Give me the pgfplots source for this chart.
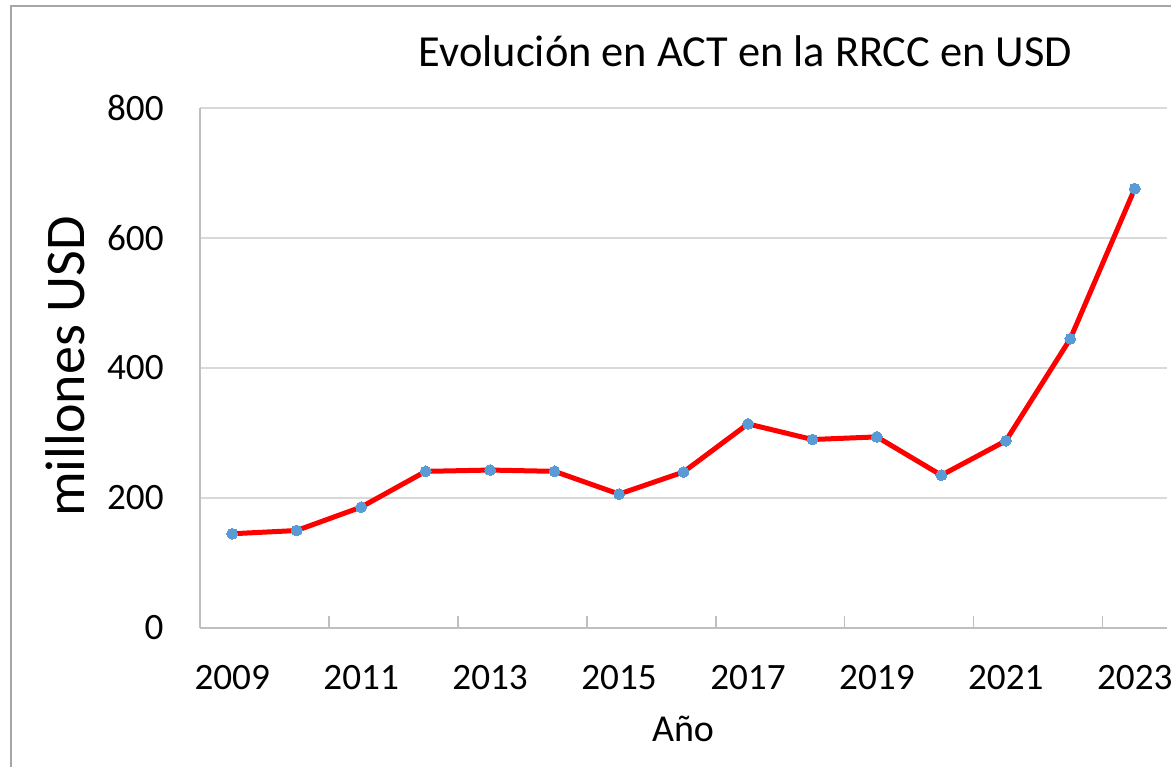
\documentclass[border=0pt]{standalone}
\usepackage{pgfplots}
\pgfplotsset{compat=1.18}
\usepackage{fontspec}
\setmainfont{Carlito}
\definecolor{linered}{HTML}{FF0000}
\definecolor{markblue}{HTML}{5B9BD5}
\definecolor{gridgray}{HTML}{D9D9D9}
\definecolor{axisgray}{HTML}{BFBFBF}
\definecolor{bordergray}{HTML}{A6A6A6}
\begin{document}
\begin{tikzpicture}
\useasboundingbox (0pt,0pt) rectangle (585.5pt,383.5pt);
\draw[bordergray, line width=0.8pt] (5.5pt,0pt) -- (5.5pt,380.5pt) -- (590pt,380.5pt);
\begin{axis}[
  at={(100pt,69.5pt)}, anchor=south west,
  width=483.5pt, height=260pt, scale only axis,
  xmin=-0.5, xmax=14.5, ymin=0, ymax=800,
  axis lines*=left,
  axis line style={axisgray, line width=0.8pt},
  xtick={0,2,...,14},
  xticklabels={2009,2011,2013,2015,2017,2019,2021,2023},
  minor xtick={1.5,3.5,...,13.5},
  ytick={0,200,...,800},
  major tick length=0pt,
  minor tick length=6pt,
  tick align=inside,
  tick style={axisgray, line width=0.8pt},
  ymajorgrids,
  grid style={gridgray, line width=0.7pt},
  /pgf/number format/assume math mode=true,
  ticklabel style={font=\fontsize{18.6}{20}\selectfont, text=black},
  xticklabel style={anchor=base, inner sep=0pt, yshift=-30.5pt},
  yticklabel style={anchor=east, inner sep=0pt, xshift=-18pt},
  clip=false,
]
\addplot[linered, line width=2.5pt, mark=*, mark size=2.7pt,
  mark options={fill=markblue, draw=markblue, line width=0pt}]
  coordinates {
  (0,145) (1,150) (2,186) (3,241) (4,243) (5,241) (6,206) (7,240)
  (8,314) (9,290) (10,294) (11,235) (12,288) (13,445) (14,676)
  };
\end{axis}
\node[anchor=base, font=\fontsize{22.2}{26}\selectfont] at (372.75pt,350pt) {Evolución en ACT en la RRCC en USD};
\node[anchor=center, rotate=90, font=\fontsize{28}{32}\selectfont] at (32.5pt,200.2pt) {millones USD};
\node[anchor=base, font=\fontsize{19}{22}\selectfont] at (341.5pt,12.65pt) {Año};
\end{tikzpicture}
\end{document}
